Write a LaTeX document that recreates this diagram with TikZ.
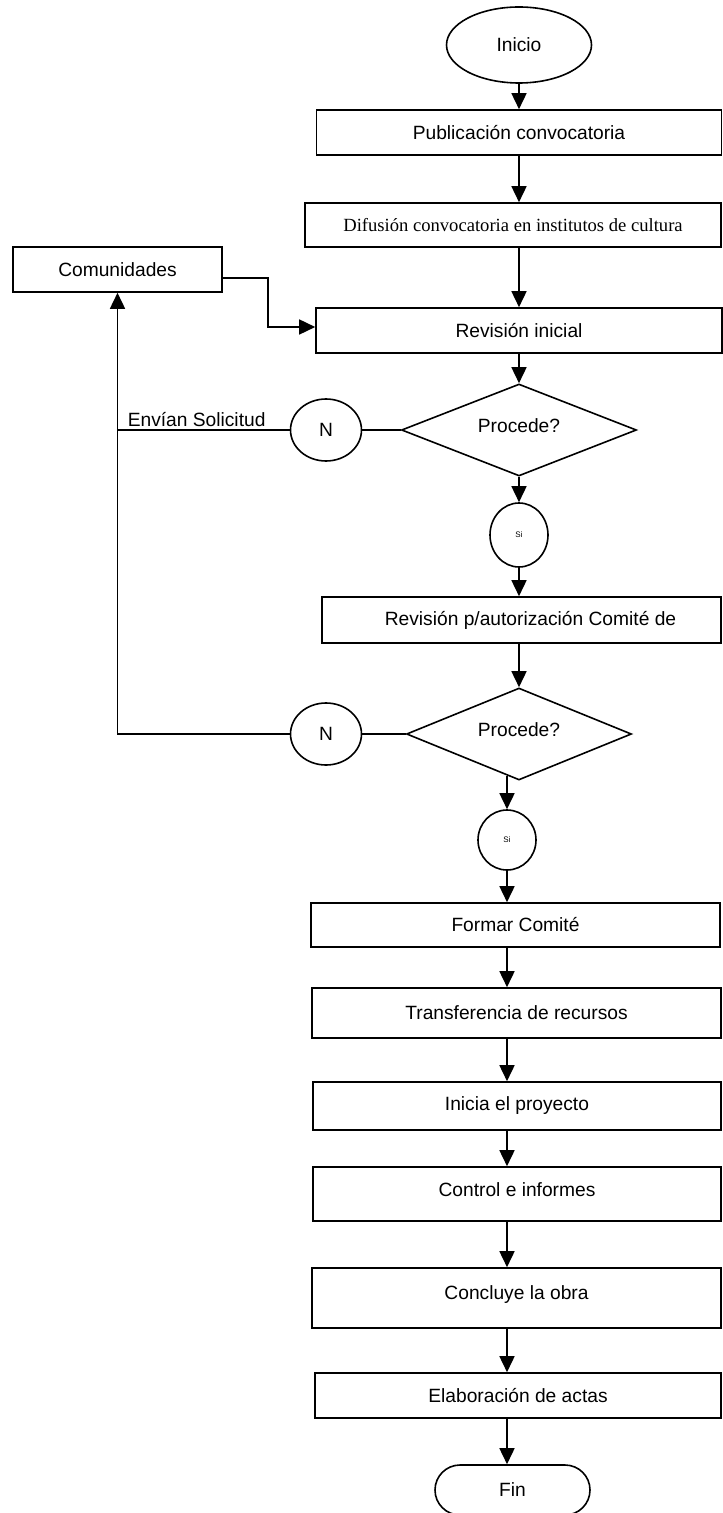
\documentclass[tikz,border=0pt]{standalone}
\usepackage{fontspec}
\setmainfont{Liberation Sans}
\newfontfamily\timesfont{Liberation Serif}
\usetikzlibrary{arrows.meta,shapes.geometric,shapes.misc}
\tikzset{
    %Define standard arrow tip
    >={Triangle[width=7.5pt,length=8pt]},
    %Define style for boxes
    process/.style={
           rectangle,
           draw=black, thick,
           minimum width=204pt,
           minimum height=22.5pt,
           inner sep=0pt,
           font=\fontsize{9.6}{11.5}\selectfont,
           text centered,
           fill=white},
     terminal/.style={
           ellipse,
           draw=black, thick,
           minimum width=72.5pt,
           minimum height=38pt,
           inner sep=0pt,
           font=\fontsize{9.6}{11.5}\selectfont,
           fill=white},
     stop/.style={
           rounded rectangle,
           draw=black, thick,
           minimum width=77.5pt,
           minimum height=25pt,
           inner sep=0pt,
           font=\fontsize{9.6}{11.5}\selectfont,
           fill=white},
     decision/.style={
           diamond,
           aspect=2.5,
           draw=black, thick,
           minimum width=117.5pt,
           minimum height=46pt,
           inner sep=0pt,
           text depth=4.5pt,
           font=\fontsize{9.6}{11.5}\selectfont,
           fill=white},
     connector/.style={
           ellipse,
           draw=black, thick,
           minimum width=35.5pt,
           minimum height=31pt,
           inner sep=0pt,
           font=\fontsize{9.6}{11.5}\selectfont,
           fill=white},
     yesnode/.style={
           connector,
           minimum width=29pt,
           minimum height=32pt,
           font=\fontsize{4}{5}\selectfont},
}

\begin{document}
\begin{tikzpicture}[x=0.5pt,y=-0.5pt,thick]
\useasboundingbox (0,0) rectangle (722,1513);
 %nodes
\node[terminal](1) at (519,45){Inicio};
\node[process, minimum width=202.5pt](2) at (519,132.5){Publicación convocatoria};
\node[process, minimum width=208pt, minimum height=22pt,
      font=\timesfont\fontsize{9.3}{11}\selectfont](3) at (513,225){Difusión convocatoria en institutos de cultura};
\node[process, minimum width=104.5pt](4) at (117.5,269.5){Comunidades};
\node[process, minimum width=203pt](5) at (519,330.5){Revisión inicial};
\node[decision](6) at (519,430){Procede?};
\node[connector](7) at (326,430){N};
\node[yesnode](8) at (519,535){Si};
\node[process, minimum width=199.5pt, minimum height=23pt](9) at (521.5,620){\hspace*{9pt}Revisión p/autorización Comité de};
\node[decision, minimum width=112.5pt](10) at (519,734){Procede?};
\node[connector](11) at (326,734){N};
\node[yesnode, minimum height=30pt](12) at (507,840){Si};
\node[process, minimum width=204.5pt, minimum height=22pt](13) at (515.5,925){Formar Comité};
\node[process, minimum width=204.5pt, minimum height=25pt](14) at (516.5,1013){Transferencia de recursos};
\node[process, minimum height=24pt](15) at (517,1106){Inicia el proyecto};
\node[process, minimum height=27pt, text depth=4.5pt](16) at (517,1194){Control e informes};
\node[process, minimum width=204.5pt, minimum height=30pt, text depth=5.5pt](17) at (516.5,1298){Concluye la obra};
\node[process, minimum width=203pt](18) at (518,1395.5){Elaboración de actas};
\node[stop](19) at (512.5,1490){Fin};
\coordinate (c) at (268,300);
 %connectors
\path[->]
    (1) edge (2)
    (2) edge (2 |- 3.north)
    (3.south -| 2) edge (5)
    (5) edge (6)
    (6) edge (8)
    (8) edge (8 |- 9.north)
    (9.south -| 8) edge (10)
    (10.south -| 12) edge[shorten <=-2.6pt] (12)
    (12) edge (12 |- 13.north)
    (13.south -| 12) edge (12 |- 14.north)
    (14.south -| 12) edge (12 |- 15.north)
    (15.south -| 12) edge (12 |- 16.north)
    (16.south -| 12) edge (12 |- 17.north)
    (17.south -| 12) edge (12 |- 18.north)
    (18.south -| 12) edge (12 |- 19.north);
\path
    (7) edge (6)
    (11) edge (10);
\draw[->] (11.west) -| (4.south);
\draw (7.west) -- (7.west -| 4.south)
    node[anchor=base west, inner sep=0pt, xshift=4.75pt, yshift=1.5pt,
         font=\fontsize{9.6}{11.5}\selectfont]{Envían Solicitud};
\draw[->] ([yshift=-4.25pt]4.east) -| (c) |- ([yshift=1.75pt]5.west);
\end{tikzpicture}
\end{document}
